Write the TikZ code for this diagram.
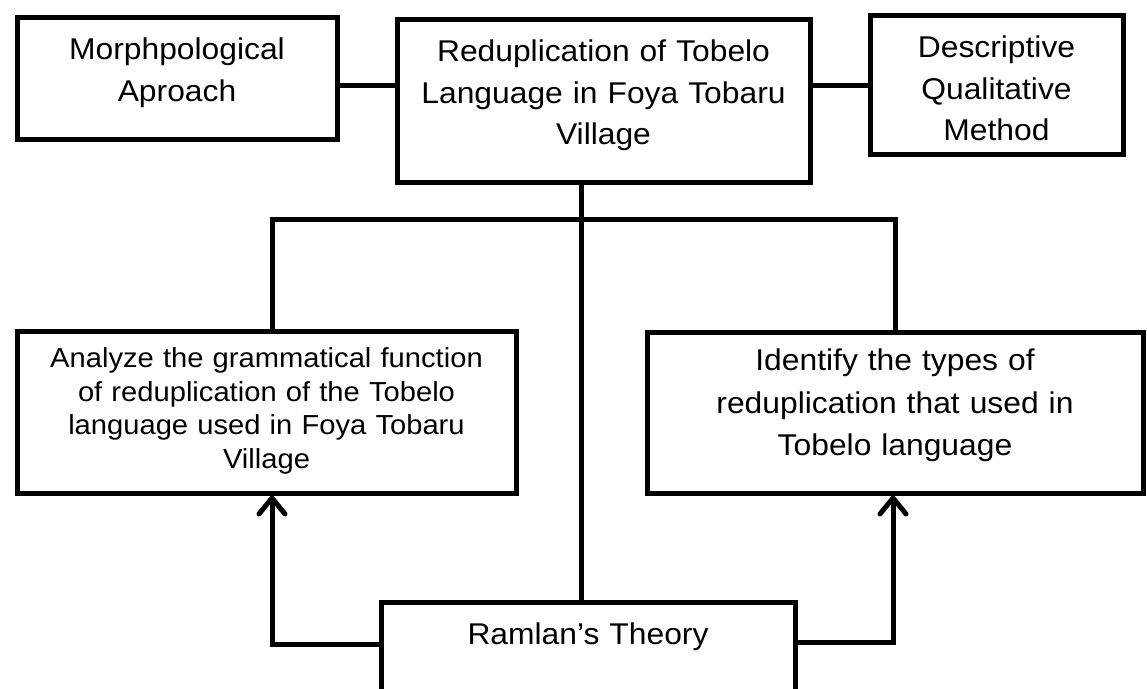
\documentclass[tikz,border=0pt]{standalone}
\usepackage{fontspec}
\setmainfont{Liberation Sans}[FakeStretch=1.06]
\usetikzlibrary{arrows.meta}
\tikzset{
  boxnode/.style={draw, line width=5pt, inner sep=0pt, align=center, anchor=north west,
    font=\fontsize{30}{41.5}\selectfont},
  conn/.style={line width=5pt},
  arr/.style={line width=5pt, -{Straight Barb[length=16pt,width=26pt,round]}}
}
\begin{document}
\begin{tikzpicture}[x=1pt,y=-1pt]
\useasboundingbox (0,0) rectangle (1147,688);
\clip (0,0) rectangle (1147,688);
% boxes
\node[boxnode, text width=320pt, text height=42.5pt, text depth=79.5pt] (lb) at (14.5,14.5)
  {Morphpological\\Aproach};
\node[boxnode, text width=413pt, text height=42.5pt, text depth=120.5pt] (tb) at (394.5,16.5)
  {Reduplication of Tobelo\\Language in Foya Tobaru\\Village};
\node[boxnode, text width=253pt, text height=42.5pt, text depth=96.5pt] (rb) at (867.5,12.5)
  {Descriptive\\Qualitative\\Method};
\node[boxnode, text width=499pt, text height=36.5pt, text depth=125.5pt,
  font=\fontsize{27.5}{33.5}\selectfont] (an) at (14.5,328.5)
  {Analyze the grammatical function\\of reduplication of the Tobelo\\language used in Foya Tobaru\\Village};
\node[boxnode, text width=496pt, text height=38.5pt, text depth=122.5pt,
  font=\fontsize{30}{42.5}\selectfont] (id) at (644.5,329.5)
  {Identify the types of\\reduplication that used in\\Tobelo language};
\node[boxnode, text width=414pt, text height=42.5pt, text depth=100pt] (rm) at (378.5,599.5)
  {Ramlan’s Theory};
% helper coordinates
\coordinate (hy) at (0,85);
\coordinate (vx) at (581,0);
\coordinate (br) at (272,219);
\coordinate (la) at (272,644);
\coordinate (ra) at (893,642);
% connectors
\draw[conn] (lb.east |- hy) -- (tb.west |- hy);
\draw[conn] (tb.east |- hy) -- (rb.west |- hy);
\draw[conn] (tb.south -| vx) -- (rm.north -| vx);
\draw[conn] (an.north -| br) -- (br) -- (id.north |- br) -- (id.north);
\draw[arr] (rm.west |- la) -- (la) -- (an.south -| la);
\draw[arr] (rm.east |- ra) -- (ra) -- (id.south -| ra);
\end{tikzpicture}
\end{document}
